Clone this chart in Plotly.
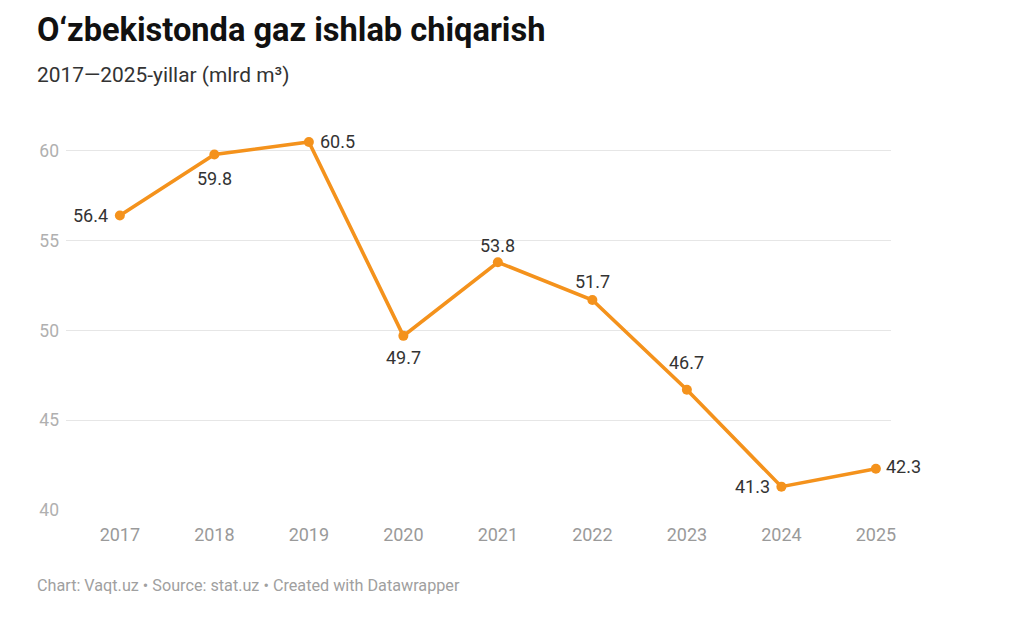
import plotly.graph_objects as go

years = [2017, 2018, 2019, 2020, 2021, 2022, 2023, 2024, 2025]
values = [56.4, 59.8, 60.5, 49.7, 53.8, 51.7, 46.7, 41.3, 42.3]
y_ticks = [40, 45, 50, 55, 60]

# label offsets (px) per point, style only
label_shift = [(-29, 0), (0, -24), (29, 0), (0, -22), (0, 17),
               (0, 18), (0, 27), (-29, 0), (28, 2)]

W, H = 1024, 633
L, R, T, B = 58, 141, 125, 131
PW, PH = W - L - R, H - T - B

orange = "#f4921c"
fig = go.Figure()
fig.add_trace(go.Scatter(
    x=years, y=values, mode="lines+markers",
    line=dict(color=orange, width=3.6),
    marker=dict(color=orange, size=10),
    cliponaxis=False,
    hoverinfo="skip",
))

annotations = []
for yr, v, (dx, dy) in zip(years, values, label_shift):
    annotations.append(dict(
        x=yr, y=v, xref="x", yref="y", text=f"{v:.1f}", showarrow=False,
        xshift=dx, yshift=dy, xanchor="center", yanchor="middle",
        font=dict(family="Roboto", size=18, color="#333333"),
    ))

left_x = (27 - L) / PW
annotations += [
    dict(text="<b>O‘zbekistonda gaz ishlab chiqarish</b>",
         xref="paper", yref="paper", x=left_x, y=1 + (T - 22) / PH,
         xanchor="left", yanchor="middle", showarrow=False,
         font=dict(family="Roboto", size=32.6, color="#111111")),
    dict(text="2017—2025-yillar (mlrd m³)",
         xref="paper", yref="paper", x=left_x, y=1 + (T - 67) / PH,
         xanchor="left", yanchor="middle", showarrow=False,
         font=dict(family="Roboto", size=20.9, color="#333333")),
    dict(text="Chart: Vaqt.uz • Source: stat.uz • Created with Datawrapper",
         xref="paper", yref="paper", x=left_x, y=-(577 - (H - B)) / PH,
         xanchor="left", yanchor="middle", showarrow=False,
         font=dict(family="Roboto", size=16.2, color="#a0a0a0")),
]

fig.update_layout(
    width=W, height=H,
    margin=dict(l=L, r=R, t=T, b=B),
    paper_bgcolor="white", plot_bgcolor="white",
    showlegend=False,
    font=dict(family="Roboto"),
    xaxis=dict(
        range=[2016.43, 2025.16],
        tickmode="array", tickvals=years, ticktext=[str(y) for y in years],
        showgrid=False, zeroline=False, showline=False, ticks="",
        tickfont=dict(family="Roboto", size=18, color="#9a9a9a"),
        ticklabelstandoff=12,
        fixedrange=True,
    ),
    yaxis=dict(
        range=[40, 61],
        tickmode="array", tickvals=y_ticks, ticktext=[str(v) for v in y_ticks],
        showgrid=True, gridcolor="#e6e6e6", gridwidth=1,
        zeroline=False, showline=False, ticks="",
        tickfont=dict(family="Roboto", size=17.5, color="#b0b0b0"),
        ticklabelstandoff=6,
        fixedrange=True,
    ),
    annotations=annotations,
)

fig.write_html("out.html")
